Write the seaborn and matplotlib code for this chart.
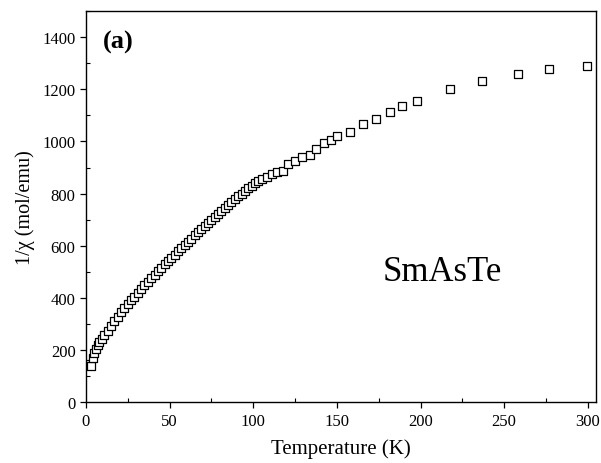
import matplotlib
matplotlib.use("Agg")
import matplotlib.pyplot as plt
import seaborn as sns
import pandas as pd
from matplotlib.ticker import MultipleLocator

temperature = [2.0, 2.8, 4.0, 5.0, 6.0, 7.0, 8.0, 9.5, 11, 13, 15, 17, 19, 21, 23, 25,
               27, 29, 31, 33, 35, 37, 39, 41, 43, 45, 47, 49, 51, 53, 55, 57, 59,
               61, 63, 65, 67, 69, 71, 73, 75, 77, 79, 81, 83, 85, 87, 89, 91, 93,
               95, 97, 99, 101, 103, 105, 108, 111, 114, 118, 121, 125, 129, 133.7,
               137.7, 142, 146.3, 150.3, 157.7, 165.7, 173.5, 181.6, 189, 197.6,
               217.8, 237, 258, 277, 299.4]
inv_chi = [145, 140, 170, 188, 205, 218, 230, 244, 258, 275, 292, 310, 328, 345, 362, 378,
           392, 405, 420, 434, 448, 462, 476, 489, 503, 516, 529, 542, 554, 566, 578, 590, 603,
           615, 627, 640, 652, 664, 676, 688, 700, 712, 723, 735, 746, 757, 768, 779, 790, 800,
           810, 820, 830, 840, 850, 855, 862, 875, 884, 888, 912, 925, 940, 948,
           970, 993, 1007, 1022, 1035, 1066, 1085, 1113, 1136, 1155,
           1202, 1232, 1258, 1276, 1289]

x_ticks = [0, 50, 100, 150, 200, 250, 300]
y_ticks = [0, 200, 400, 600, 800, 1000, 1200, 1400]

df = pd.DataFrame({"T": temperature, "inv_chi": inv_chi})

sns.set_theme(style="ticks")
plt.rcParams["font.family"] = ["Liberation Serif", "DejaVu Serif"]
plt.rcParams.update({"text.color": "black", "axes.labelcolor": "black",
                     "xtick.color": "black", "ytick.color": "black",
                     "axes.edgecolor": "black"})

fig = plt.figure(figsize=(6.01, 4.64), dpi=100)
ax = fig.add_axes([0.143, 0.131, 0.849, 0.843])

sns.scatterplot(data=df, x="T", y="inv_chi", ax=ax, marker="s", s=30,
                facecolor="white", edgecolor="black", linewidth=0.9, legend=False)

ax.set_xlim(0, 305)
ax.set_ylim(0, 1500)
ax.set_xticks(x_ticks)
ax.set_yticks(y_ticks)
ax.xaxis.set_minor_locator(MultipleLocator(25))
ax.yaxis.set_minor_locator(MultipleLocator(100))
ax.tick_params(axis="both", which="major", direction="out", length=4, width=0.9,
               labelsize=12, colors="black")
ax.tick_params(axis="both", which="minor", direction="in", length=3, width=0.8,
               colors="black")
for sp in ax.spines.values():
    sp.set_visible(True)
    sp.set_linewidth(1.0)
    sp.set_color("black")

ax.set_xlabel("Temperature (K)", fontsize=15, labelpad=7, color="black")
ax.set_ylabel("1/\u03c7 (mol/emu)", fontsize=14.5, labelpad=5, color="black")

ax.text(0.033, 0.923, "(a)", transform=ax.transAxes, fontsize=19, fontweight="bold",
        va="center", ha="left", color="black")
ax.text(0.698, 0.335, "SmAsTe", transform=ax.transAxes, fontsize=25,
        va="center", ha="center", color="black")

fig.savefig("out.png", dpi=100)
